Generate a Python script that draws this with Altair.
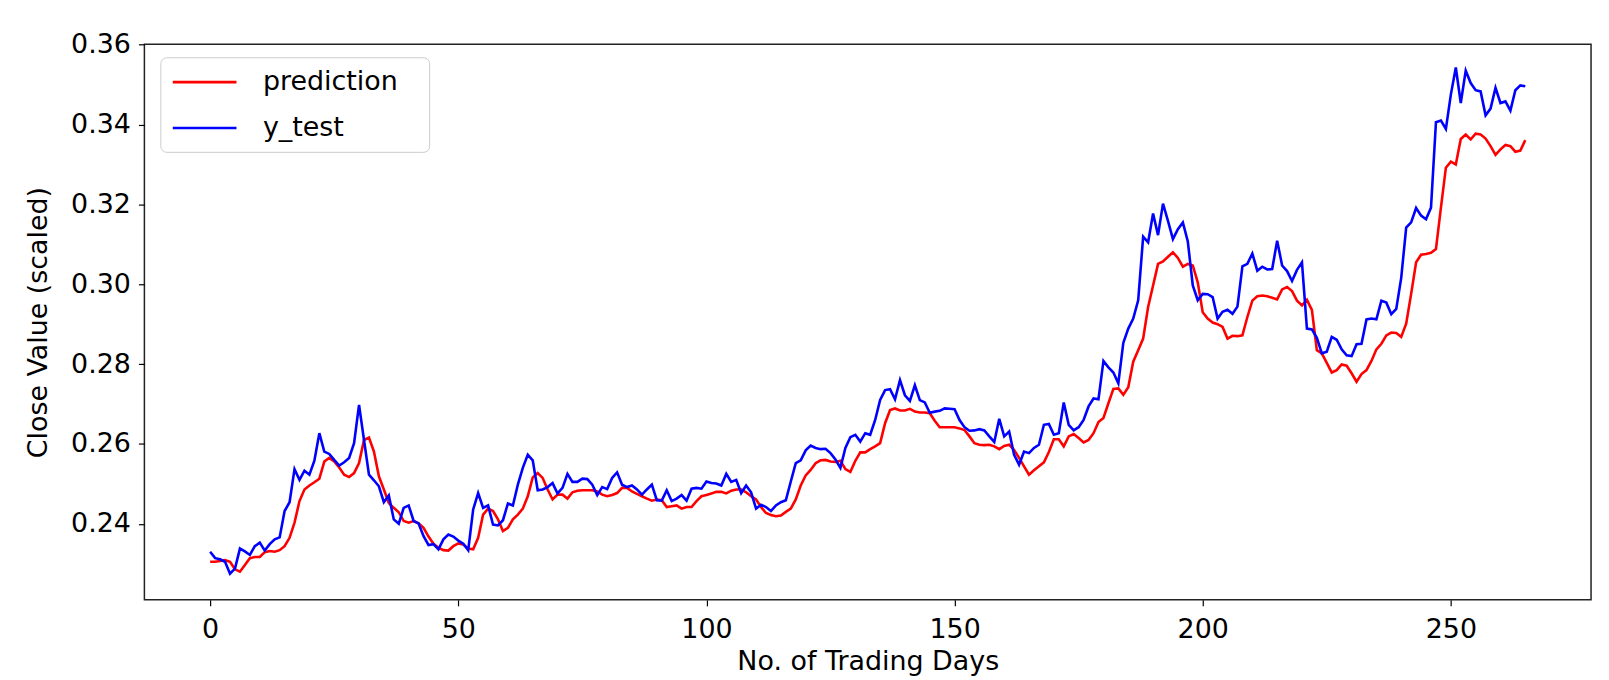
import altair as alt
import pandas as pd

prediction = [
0.2305,0.2305,0.2307,0.2309,0.2305,0.2286,0.2280,0.2297,0.2314,0.2317,
0.2317,0.2329,0.2332,0.2330,0.2334,0.2344,0.2365,0.2403,0.2457,0.2486,
0.2496,0.2504,0.2513,0.2556,0.2565,0.2556,0.2541,0.2523,0.2517,0.2527,
0.2552,0.2610,0.2616,0.2581,0.2519,0.2486,0.2452,0.2440,0.2429,0.2407,
0.2403,0.2407,0.2401,0.2390,0.2368,0.2350,0.2340,0.2334,0.2333,0.2344,
0.2351,0.2348,0.2338,0.2336,0.2365,0.2423,0.2438,0.2432,0.2411,0.2382,
0.2390,0.2411,0.2423,0.2438,0.2469,0.2516,0.2527,0.2515,0.2486,0.2461,
0.2473,0.2473,0.2463,0.2479,0.2483,0.2484,0.2484,0.2484,0.2481,0.2473,
0.2469,0.2472,0.2477,0.2490,0.2490,0.2481,0.2475,0.2469,0.2463,0.2458,
0.2461,0.2459,0.2442,0.2444,0.2446,0.2438,0.2442,0.2442,0.2457,0.2469,
0.2472,0.2476,0.2480,0.2480,0.2476,0.2483,0.2486,0.2486,0.2479,0.2469,
0.2461,0.2442,0.2427,0.2422,0.2419,0.2421,0.2430,0.2438,0.2461,0.2496,
0.2521,0.2535,0.2552,0.2559,0.2560,0.2556,0.2555,0.2558,0.2537,0.2530,
0.2558,0.2579,0.2579,0.2587,0.2594,0.2602,0.2652,0.2685,0.2689,0.2684,
0.2684,0.2688,0.2681,0.2679,0.2679,0.2677,0.2658,0.2642,0.2642,0.2642,
0.2642,0.2639,0.2635,0.2619,0.2602,0.2598,0.2597,0.2598,0.2594,0.2587,
0.2595,0.2598,0.2585,0.2565,0.2544,0.2523,0.2534,0.2544,0.2554,0.2580,
0.2612,0.2612,0.2594,0.2619,0.2625,0.2615,0.2604,0.2610,0.2627,0.2655,
0.2665,0.2702,0.2738,0.2739,0.2723,0.2742,0.2806,0.2835,0.2864,0.2943,
0.2997,0.3051,0.3057,0.3069,0.3080,0.3066,0.3044,0.3051,0.3047,0.3005,
0.2930,0.2914,0.2904,0.2900,0.2893,0.2864,0.2871,0.2870,0.2872,0.2918,
0.2959,0.2970,0.2972,0.2970,0.2966,0.2962,0.2987,0.2993,0.2983,0.2959,
0.2947,0.2961,0.2936,0.2835,0.2827,0.2803,0.2779,0.2785,0.2799,0.2796,
0.2777,0.2756,0.2775,0.2785,0.2808,0.2837,0.2851,0.2872,0.2879,0.2878,
0.2868,0.2901,0.2976,0.3055,0.3074,0.3076,0.3079,0.3088,0.3192,0.3292,
0.3307,0.3300,0.3364,0.3375,0.3363,0.3377,0.3375,0.3365,0.3346,0.3324,
0.3338,0.3349,0.3346,0.3332,0.3335,0.3361,
]

y_test = [
0.2330,0.2314,0.2311,0.2305,0.2275,0.2288,0.2338,0.2331,0.2322,0.2344,
0.2353,0.2333,0.2349,0.2361,0.2366,0.2432,0.2454,0.2537,0.2510,0.2533,
0.2523,0.2558,0.2627,0.2581,0.2575,0.2560,0.2546,0.2554,0.2565,0.2602,
0.2698,0.2610,0.2523,0.2509,0.2494,0.2454,0.2471,0.2411,0.2400,0.2440,
0.2446,0.2407,0.2401,0.2369,0.2347,0.2349,0.2336,0.2361,0.2373,0.2368,
0.2358,0.2350,0.2334,0.2436,0.2477,0.2440,0.2446,0.2398,0.2396,0.2409,
0.2451,0.2446,0.2498,0.2540,0.2573,0.2559,0.2484,0.2486,0.2492,0.2502,
0.2476,0.2490,0.2525,0.2505,0.2505,0.2513,0.2512,0.2498,0.2472,0.2492,
0.2487,0.2515,0.2529,0.2498,0.2492,0.2496,0.2486,0.2473,0.2486,0.2498,
0.2459,0.2458,0.2484,0.2457,0.2463,0.2472,0.2458,0.2488,0.2490,0.2488,
0.2506,0.2502,0.2501,0.2496,0.2525,0.2505,0.2510,0.2477,0.2496,0.2479,
0.2438,0.2448,0.2442,0.2432,0.2446,0.2454,0.2459,0.2506,0.2552,0.2559,
0.2584,0.2596,0.2590,0.2587,0.2588,0.2577,0.2561,0.2540,0.2590,0.2617,
0.2623,0.2606,0.2627,0.2623,0.2660,0.2710,0.2735,0.2737,0.2712,0.2760,
0.2722,0.2708,0.2747,0.2710,0.2704,0.2678,0.2681,0.2683,0.2689,0.2688,
0.2687,0.2660,0.2642,0.2633,0.2634,0.2637,0.2634,0.2619,0.2605,0.2663,
0.2619,0.2631,0.2573,0.2548,0.2581,0.2577,0.2590,0.2598,0.2648,0.2650,
0.2623,0.2627,0.2704,0.2648,0.2634,0.2642,0.2660,0.2694,0.2714,0.2712,
0.2808,0.2792,0.2779,0.2752,0.2853,0.2889,0.2914,0.2960,0.3119,0.3105,
0.3177,0.3123,0.3202,0.3159,0.3113,0.3138,0.3155,0.3107,0.2997,0.2960,
0.2976,0.2975,0.2968,0.2914,0.2931,0.2936,0.2926,0.2944,0.3045,0.3051,
0.3077,0.3034,0.3044,0.3037,0.3038,0.3109,0.3047,0.3033,0.3008,0.3036,
0.3055,0.2889,0.2887,0.2866,0.2827,0.2831,0.2868,0.2861,0.2837,0.2822,
0.2820,0.2850,0.2851,0.2912,0.2914,0.2912,0.2959,0.2954,0.2925,0.2938,
0.3016,0.3142,0.3155,0.3191,0.3172,0.3163,0.3192,0.3406,0.3410,0.3389,
0.3475,0.3543,0.3454,0.3535,0.3504,0.3486,0.3483,0.3423,0.3440,0.3492,
0.3454,0.3458,0.3435,0.3486,0.3498,0.3496,
]

series_names = ["prediction", "y_test"]
series_colors = ["#ff0000", "#0000ff"]
x_ticks = [0, 50, 100, 150, 200, 250]
y_ticks = [0.24, 0.26, 0.28, 0.30, 0.32, 0.34, 0.36]

rows = []
for name, vals in zip(series_names, [prediction, y_test]):
    for i, v in enumerate(vals):
        rows.append({"day": i, "value": v, "series": name})
df = pd.DataFrame(rows)

FONT = "DejaVu Sans"
W, H = 1453, 558

chart = alt.Chart(df).mark_line(strokeWidth=2.6).encode(
    x=alt.X("day:Q",
            scale=alt.Scale(domain=[-13.25, 278.25], nice=False, zero=False),
            axis=alt.Axis(values=x_ticks, title="No. of Trading Days",
                          titleY=62, titleBaseline="middle",
                          labelPadding=11, format="d")),
    y=alt.Y("value:Q",
            scale=alt.Scale(domain=[0.22095, 0.3601], nice=False, zero=False),
            axis=alt.Axis(values=y_ticks, title="Close Value (scaled)", format=".2f",
                          titleX=-106, titleY=H / 2, titleAngle=270,
                          titleBaseline="middle", titleAlign="center",
                          labelPadding=8)),
    color=alt.Color("series:N",
                    scale=alt.Scale(domain=series_names, range=series_colors),
                    legend=alt.Legend(title="M", titleOrient="right", titlePadding=0,
                                      titleFontSize=25,
                                      titleColor="rgba(0,0,0,0)",
                                      orient="none", legendX=16, legendY=13,
                                      symbolType="M-1,0L4.12,0", symbolSize=625,
                                      symbolStrokeWidth=2.6, labelOffset=64,
                                      labelFontSize=27, labelFont=FONT, labelColor="#000",
                                      padding=11, rowPadding=19,
                                      fillColor="rgba(255,255,255,0.8)",
                                      strokeColor="#cccccc", cornerRadius=6)),
).properties(
    width=W, height=H,
    autosize=alt.AutoSizeParams(type="none"),
    padding={"left": 137, "top": 35, "right": 10, "bottom": 76},
).configure_view(
    stroke="#222222", strokeWidth=1.5
).configure_axis(
    domain=False, grid=False,
    tickColor="#000", tickSize=6, tickWidth=1.2,
    labelFont=FONT, labelFontSize=27, labelColor="#000",
    titleFont=FONT, titleFontSize=27, titleColor="#000", titleFontWeight="normal",
)

chart.save("out.html", embed_options={"renderer": "svg", "actions": False})
